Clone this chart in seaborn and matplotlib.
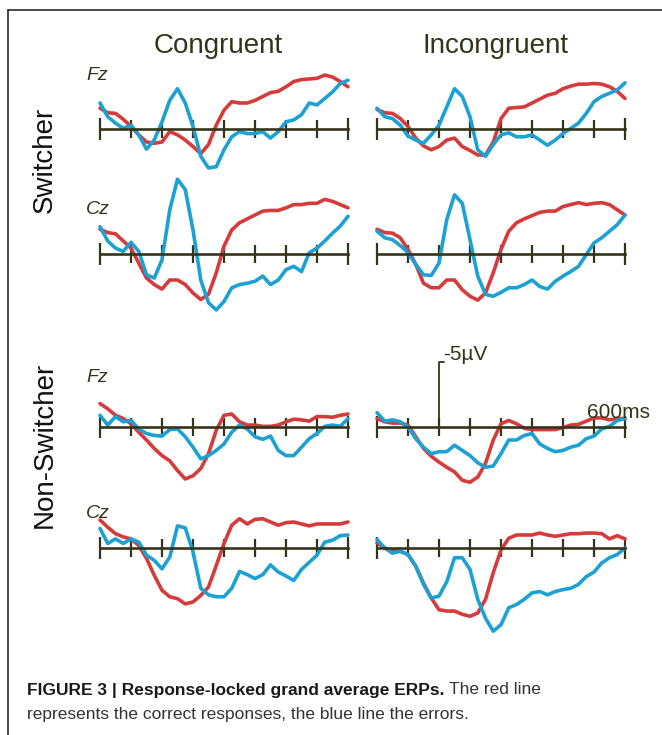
import numpy as np
import pandas as pd
import seaborn as sns
import matplotlib.pyplot as plt
from matplotlib.lines import Line2D

# time axis (ms, response at 0) and amplitudes in microvolts (negative is drawn upward)
times = list(range(-200, 601, 25))

sw_fz_con_correct = [-1.6, -1.25, -1.2, -0.75, -0.2, 0.45, 1.0, 1.1, 1.0, 0.2, 0.45, 0.85, 1.35, 1.9, 1.2, -0.3, -1.45,
                     -2.1, -2.0, -2.0, -2.2, -2.5, -2.8, -2.9, -3.25, -3.65, -3.8, -3.85, -3.9, -4.15, -4.0, -3.65, -3.25]
sw_fz_con_error = [-2.0, -0.95, -0.45, -0.05, -0.3, 0.45, 1.55, 0.85, -0.55, -2.2, -3.1, -2.0, -0.2, 2.1, 3.0, 2.9, 1.6,
                   0.6, 0.2, 0.35, 0.35, 0.2, 0.7, 0.2, -0.55, -0.7, -1.1, -2.0, -1.85, -2.35, -2.85, -3.5, -3.75]
sw_fz_inc_correct = [-1.5, -1.25, -1.2, -0.8, -0.2, 0.7, 1.3, 1.6, 1.35, 0.85, 0.7, 1.35, 1.65, 2.0, 2.0, 1.0, -0.8,
                     -1.6, -1.65, -1.7, -2.0, -2.3, -2.6, -2.75, -3.1, -3.3, -3.45, -3.45, -3.5, -3.45, -3.25, -2.9, -2.35]
sw_fz_inc_error = [-1.6, -0.95, -0.8, -0.3, 0.55, 0.85, 1.1, 0.45, -0.3, -1.7, -3.1, -2.5, -0.95, 1.6, 2.1, 1.2, 0.45,
                   0.3, 0.6, 0.6, 0.45, 0.85, 1.25, 0.85, 0.35, -0.05, -0.45, -1.2, -2.1, -2.5, -2.75, -3.0, -3.55]
sw_cz_con_correct = [-1.9, -1.65, -1.55, -1.0, -0.45, 0.7, 1.85, 2.35, 2.7, 2.0, 2.0, 2.35, 3.0, 3.5, 3.1, 1.45, -0.6,
                     -1.85, -2.4, -2.7, -3.0, -3.3, -3.35, -3.35, -3.55, -3.8, -3.8, -3.9, -3.9, -4.2, -4.05, -3.8, -3.55]
sw_cz_con_error = [-2.1, -1.0, -0.45, -0.2, -0.9, -0.2, 1.6, 1.85, 0.45, -3.4, -5.75, -4.95, -1.85, 2.0, 3.75, 4.3, 3.65,
                   2.6, 2.35, 2.25, 2.1, 1.7, 2.35, 2.0, 1.2, 0.95, 1.35, -0.1, -0.45, -1.0, -1.6, -2.15, -2.9]
sw_cz_inc_correct = [-1.9, -1.65, -1.6, -1.25, -0.35, 0.8, 2.25, 2.6, 2.6, 2.0, 2.0, 2.75, 3.25, 3.55, 3.0, 1.45, -0.35,
                     -1.75, -2.4, -2.7, -2.95, -3.2, -3.3, -3.3, -3.65, -3.8, -3.95, -3.8, -3.9, -3.95, -3.8, -3.4, -3.0]
sw_cz_inc_error = [-1.75, -1.25, -1.1, -0.65, -0.1, 0.8, 1.6, 1.65, 0.7, -2.65, -4.55, -3.9, -1.1, 1.7, 3.1, 3.25, 2.95,
                   2.6, 2.6, 2.35, 2.0, 2.5, 2.7, 2.1, 1.7, 1.35, 0.95, 0.05, -0.85, -1.25, -1.75, -2.25, -3.0]
ns_fz_con_correct = [-1.8, -1.4, -0.9, -0.65, -0.25, 0.4, 1.0, 1.65, 2.2, 2.6, 3.35, 4.0, 3.75, 3.2, 2.05, 0.25, -0.9,
                     -1.0, -0.4, -0.15, -0.15, -0.05, -0.05, -0.15, -0.4, -0.6, -0.55, -0.45, -0.8, -0.8, -0.75, -0.9, -1.0]
ns_fz_con_error = [-0.9, -0.15, -0.8, -0.4, -0.5, 0.15, 0.5, 0.65, 0.7, 0.2, 0.15, 0.75, 1.55, 2.45, 2.2, 1.8, 1.3,
                   0.4, -0.15, 0.15, 0.75, 0.95, 0.7, 1.8, 2.2, 2.2, 1.55, 0.9, 0.5, -0.05, -0.15, -0.05, -0.65]
ns_fz_inc_correct = [-0.65, -0.4, -0.3, -0.3, -0.15, 0.75, 1.65, 2.25, 2.7, 3.1, 3.45, 4.1, 4.25, 3.85, 2.8, 1.0, -0.25,
                     -0.5, -0.25, 0.1, 0.2, 0.2, 0.2, 0.2, 0.05, -0.15, -0.2, -0.45, -0.7, -0.7, -0.55, -0.65, -0.65]
ns_fz_inc_error = [-1.1, -0.45, -0.55, -0.4, 0.0, 0.9, 1.55, 2.05, 1.9, 1.9, 1.4, 1.8, 2.2, 2.75, 3.1, 3.0, 2.05,
                   1.0, 1.0, 0.65, 0.5, 1.3, 1.65, 1.9, 1.8, 1.55, 1.4, 0.9, 0.7, 0.15, -0.05, -0.5, -0.65]
ns_cz_con_correct = [-2.15, -1.6, -1.1, -0.85, -0.7, -0.2, 0.8, 2.1, 3.25, 3.75, 3.9, 4.3, 4.15, 3.65, 3.0, 1.35, -0.35,
                     -1.75, -2.25, -1.85, -2.2, -2.25, -2.0, -1.75, -1.95, -2.0, -1.85, -1.7, -1.85, -1.85, -1.85, -1.85, -2.0]
ns_cz_con_error = [-1.5, -0.35, -0.7, -0.35, -0.7, -0.45, 0.55, 0.95, 1.6, 0.7, -1.7, -1.55, 0.3, 3.1, 3.6, 3.75, 3.75,
                   3.1, 1.8, 2.05, 2.35, 2.05, 1.3, 1.85, 2.15, 2.5, 1.65, 1.1, 0.55, -0.45, -0.6, -0.95, -1.0]
ns_cz_inc_correct = [-0.4, 0.0, 0.2, 0.25, 0.5, 1.4, 2.7, 3.85, 4.75, 4.85, 4.85, 5.1, 5.25, 5.0, 3.95, 1.9, 0.15,
                     -0.75, -1.0, -1.0, -1.0, -1.15, -1.0, -0.9, -1.0, -1.1, -1.1, -1.15, -1.15, -1.1, -0.7, -0.95, -0.7]
ns_cz_inc_error = [-0.65, 0.0, 0.4, 0.25, 0.5, 1.4, 2.8, 3.85, 3.7, 2.6, 0.75, 0.75, 1.65, 3.95, 5.4, 6.4, 5.9,
                   4.6, 4.35, 3.95, 3.45, 3.35, 3.6, 3.35, 3.2, 3.1, 2.8, 2.2, 1.85, 1.15, 0.75, 0.5, 0.0]

conditions = ["Congruent", "Incongruent"]
groups = ["Switcher", "Non-Switcher"]
electrodes = ["Fz", "Cz"]

panels = {
    ("Switcher", "Fz", "Congruent"): (sw_fz_con_correct, sw_fz_con_error),
    ("Switcher", "Fz", "Incongruent"): (sw_fz_inc_correct, sw_fz_inc_error),
    ("Switcher", "Cz", "Congruent"): (sw_cz_con_correct, sw_cz_con_error),
    ("Switcher", "Cz", "Incongruent"): (sw_cz_inc_correct, sw_cz_inc_error),
    ("Non-Switcher", "Fz", "Congruent"): (ns_fz_con_correct, ns_fz_con_error),
    ("Non-Switcher", "Fz", "Incongruent"): (ns_fz_inc_correct, ns_fz_inc_error),
    ("Non-Switcher", "Cz", "Congruent"): (ns_cz_con_correct, ns_cz_con_error),
    ("Non-Switcher", "Cz", "Incongruent"): (ns_cz_inc_correct, ns_cz_inc_error),
}

scale_uv = -5      # calibration bar
scale_ms = 600

RED = "#d63b3b"
BLUE = "#1ba1d3"
OLIVE = "#35341a"

sns.set_style("white")
plt.rcParams["font.family"] = ["Liberation Sans", "DejaVu Sans"]

W, H = 662, 735
fig = plt.figure(figsize=(W / 100, H / 100), dpi=100)


def px_axes(x, y_axis, w, half=104):
    # axes placed in pixel coords, zero line at y_axis (from top)
    return fig.add_axes([x / W, 1 - (y_axis + half) / H, w / W, 2 * half / H])


col_x = {"Congruent": 100, "Incongruent": 377}
row_y = {("Switcher", "Fz"): 129, ("Switcher", "Cz"): 254,
         ("Non-Switcher", "Fz"): 427, ("Non-Switcher", "Cz"): 548}
label_y = {("Switcher", "Fz"): 75, ("Switcher", "Cz"): 209,
           ("Non-Switcher", "Fz"): 378, ("Non-Switcher", "Cz"): 513}

axes = {}
for (grp, el, cond), (correct, error) in panels.items():
    ax = px_axes(col_x[cond], row_y[(grp, el)], 248)
    ax.set_facecolor("none")
    df = pd.DataFrame({"time": times, "correct": correct, "error": error})
    sns.lineplot(data=df, x="time", y="correct", color=RED, lw=2.6, ax=ax, legend=False, clip_on=False)
    sns.lineplot(data=df, x="time", y="error", color=BLUE, lw=2.6, ax=ax, legend=False, clip_on=False)
    ax.set_xlim(-200, 600)
    ax.set_ylim(8, -8)
    for s in ["top", "left", "right"]:
        ax.spines[s].set_visible(False)
    ax.spines["bottom"].set_position(("data", 0))
    ax.spines["bottom"].set_color(OLIVE)
    ax.spines["bottom"].set_linewidth(1.9)
    ax.set_xticks([-200, 600])
    ax.set_xticks(list(range(-100, 600, 100)), minor=True)
    ax.tick_params(axis="x", which="both", bottom=True, labelbottom=False, direction="inout",
                   width=1.6, color=OLIVE)
    ax.tick_params(axis="x", which="major", length=15.5)
    ax.tick_params(axis="x", which="minor", length=13)
    ax.set_yticks([])
    ax.set_xlabel("")
    ax.set_ylabel("")
    axes[(grp, el, cond)] = ax

# calibration bar on the Non-Switcher Fz incongruent panel
ax = axes[("Non-Switcher", "Fz", "Incongruent")]
ax.plot([0, 0, 15], [0, scale_uv, scale_uv], color=OLIVE, lw=1.3, clip_on=False)
ax.text(12, scale_uv - 0.55, f"-{abs(scale_uv)}\u00b5V", fontsize=15, color=OLIVE, ha="left", va="center")
ax.text(scale_ms + 80, -1.15, f"{scale_ms}ms", fontsize=15, color=OLIVE, ha="right", va="center")

# column headers / row labels / electrode labels
for cond, cx in zip(conditions, [218, 495]):
    fig.text(cx / W, 1 - 46 / H, cond, fontsize=20, color=OLIVE, ha="center", va="center")
for grp, cy in zip(groups, [160, 445]):
    fig.text(45 / W, 1 - cy / H, grp, fontsize=20, color="#111111", rotation=90, ha="center", va="center")
for key, ly in label_y.items():
    fig.text(86 / W, 1 - ly / H, key[1], fontsize=14, style="italic", color=OLIVE, ha="left", va="center")

# frame
fig.add_artist(Line2D([8 / W, 8 / W], [0, 1 - 10 / H], color="#2a2a2a", lw=1.2, transform=fig.transFigure))
fig.add_artist(Line2D([8 / W, 1], [1 - 10 / H, 1 - 10 / H], color="#2a2a2a", lw=1.2, transform=fig.transFigure))

# caption
bold = fig.text(27 / W, 1 - 690 / H, "FIGURE 3 | Response-locked grand average ERPs.", fontsize=12.5,
                fontweight="bold", color="#1a1a1a", ha="left", va="center")
fig.canvas.draw()
bb = bold.get_window_extent()
fig.text((bb.x1 + 4) / W, 1 - 690 / H, "The red line", fontsize=12.5, color="#333333", ha="left", va="center")
fig.text(27 / W, 1 - 715 / H, "represents the correct responses, the blue line the errors.", fontsize=12.5,
         color="#333333", ha="left", va="center")

fig.savefig("out.png", dpi=100)
